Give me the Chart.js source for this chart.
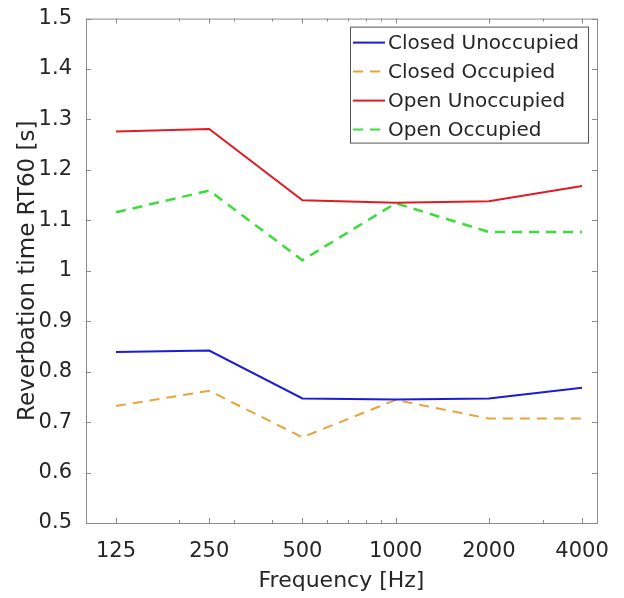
<!DOCTYPE html>
<html>
<head>
<meta charset="utf-8">
<script src="https://cdn.jsdelivr.net/npm/chart.js@4.4.1/dist/chart.umd.min.js"></script>
<style>
  body { margin: 0; background: #fff; }
  #wrap { width: 624px; height: 598px; }
</style>
</head>
<body>
<div id="wrap"><canvas id="rtChart" width="624" height="598"></canvas></div>
<script>
// frequency bands (Hz) and measured RT60 (s)
const frequencies = [125, 250, 500, 1000, 2000, 4000];
const closedUnoccupied = [0.839, 0.842, 0.747, 0.745, 0.747, 0.768];
const closedOccupied = [0.732, 0.762, 0.670, 0.744, 0.707, 0.707];
const openUnoccupied = [1.276, 1.281, 1.140, 1.135, 1.138, 1.168];
const openOccupied = [1.116, 1.159, 1.021, 1.134, 1.077, 1.077];
const minorFreqs = [200, 300, 400, 600, 700, 800, 900, 3000];
const yTicks = [0.5, 0.6, 0.7, 0.8, 0.9, 1, 1.1, 1.2, 1.3, 1.4, 1.5];

const FONT = "DejaVu Sans";
const axisColor = "#8c8c8c";
const textColor = "#262626";

function pts(vals) {
  return frequencies.map((f, i) => ({ x: f, y: vals[i] }));
}

// box, inward ticks and minor log ticks like the original figure
const boxPlugin = {
  id: "box",
  afterDraw(chart) {
    const { ctx, chartArea: a, scales } = chart;
    ctx.save();
    ctx.strokeStyle = axisColor;
    ctx.lineWidth = 1;
    ctx.strokeRect(a.left + 0.5, a.top + 0.5, a.right - a.left, a.bottom - a.top);
    ctx.beginPath();
    const tick = (x, len) => {
      x = Math.round(x) + 0.5;
      ctx.moveTo(x, a.bottom); ctx.lineTo(x, a.bottom - len);
      ctx.moveTo(x, a.top); ctx.lineTo(x, a.top + len);
    };
    frequencies.forEach(f => tick(scales.x.getPixelForValue(f), 5));
    minorFreqs.forEach(f => tick(scales.x.getPixelForValue(f), 3));
    yTicks.forEach(v => {
      const y = Math.round(scales.y.getPixelForValue(v)) + 0.5;
      ctx.moveTo(a.left, y); ctx.lineTo(a.left + 5, y);
      ctx.moveTo(a.right, y); ctx.lineTo(a.right - 5, y);
    });
    ctx.stroke();
    ctx.restore();
  }
};

// legend drawn inside the axes, top right
const boxLegend = {
  id: "boxLegend",
  afterDraw(chart) {
    const { ctx, chartArea: a } = chart;
    const x0 = a.left + 264, y0 = a.top + 8, w = 238, h = 116;
    ctx.save();
    ctx.fillStyle = "#fff";
    ctx.fillRect(x0, y0, w, h);
    ctx.strokeStyle = "#555";
    ctx.lineWidth = 1;
    ctx.strokeRect(x0 + 0.5, y0 + 0.5, w, h);
    ctx.font = "20px " + FONT;
    ctx.textBaseline = "middle";
    chart.data.datasets.forEach((ds, i) => {
      const y = y0 + 16 + i * 29;
      ctx.strokeStyle = ds.borderColor;
      ctx.lineWidth = 2;
      ctx.setLineDash(ds.borderDash || []);
      ctx.beginPath();
      ctx.moveTo(x0 + 3, y); ctx.lineTo(x0 + 35, y);
      ctx.stroke();
      ctx.setLineDash([]);
      ctx.fillStyle = textColor;
      ctx.fillText(ds.label, x0 + 38, y + 1);
    });
    ctx.restore();
  }
};

new Chart(document.getElementById("rtChart"), {
  type: "line",
  data: {
    datasets: [
      { label: "Closed Unoccupied", data: pts(closedUnoccupied), borderColor: "#1c1cd8", borderWidth: 2 },
      { label: "Closed Occupied", data: pts(closedOccupied), borderColor: "#eaa23a", borderWidth: 2, borderDash: [10, 7] },
      { label: "Open Unoccupied", data: pts(openUnoccupied), borderColor: "#e01b24", borderWidth: 2 },
      { label: "Open Occupied", data: pts(openOccupied), borderColor: "#3ddc3d", borderWidth: 2.5, borderDash: [10, 7] }
    ]
  },
  options: {
    responsive: false,
    animation: false,
    elements: { point: { radius: 0 }, line: { tension: 0 } },
    layout: { padding: { top: 15, right: 27, left: 0, bottom: 0 } },
    plugins: { legend: { display: false }, tooltip: { enabled: false } },
    scales: {
      x: {
        type: "logarithmic",
        min: 100,
        max: 4470,
        afterBuildTicks: axis => { axis.ticks = frequencies.map(v => ({ value: v })); },
        afterFit: axis => { axis.height = 75; },
        ticks: {
          autoSkip: false, maxRotation: 0, padding: 8,
          color: textColor, font: { family: FONT, size: 21 },
          callback: v => String(v)
        },
        grid: { display: false },
        border: { display: false },
        title: {
          display: true, text: "Frequency [Hz]", color: textColor,
          font: { family: FONT, size: 22 }, padding: { top: 0, bottom: 4 }
        }
      },
      y: {
        min: 0.5,
        max: 1.5,
        afterBuildTicks: axis => { axis.ticks = yTicks.map(v => ({ value: v })); },
        afterFit: axis => { axis.width = 86; },
        ticks: {
          padding: 6, color: textColor, font: { family: FONT, size: 21 },
          callback: v => String(Number(v.toFixed(1)))
        },
        grid: { display: false },
        border: { display: false },
        title: {
          display: true, text: "Reverbation time RT60 [s]", color: textColor,
          font: { family: FONT, size: 23 }, padding: { top: 14, bottom: 0 }
        }
      }
    }
  },
  plugins: [boxPlugin, boxLegend]
});
</script>
</body>
</html>
